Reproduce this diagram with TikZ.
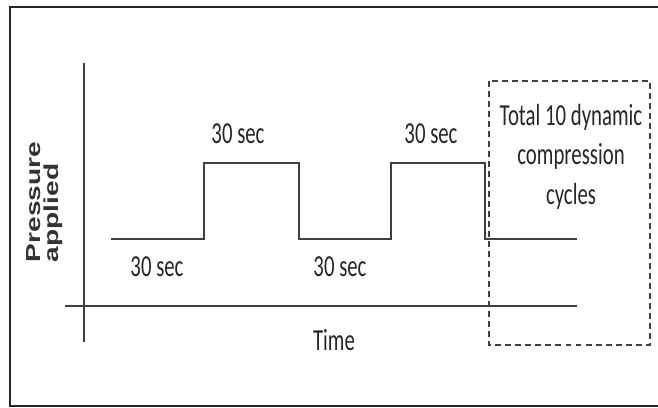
\documentclass[tikz,border=0pt]{standalone}
\usepackage{fontspec}
\setmainfont{Carlito}[FakeStretch=0.68]
\newfontfamily\axisfont{Liberation Sans}
\usetikzlibrary{positioning}

\begin{document}
\begin{tikzpicture}[
  x=0.02cm, y=-0.02cm,
  frame/.style={draw=black!85, line width=1.7pt},
  line/.style={draw=black!75, line width=1.2pt},
  cyclebox/.style={draw=black!75, line width=1.3pt, dash pattern=on 3.4pt off 2.3pt},
  lbl/.style={text=black!85, inner sep=0pt, font=\fontsize{17.4}{22.4}\selectfont}
]
\useasboundingbox (0,0) rectangle (658,408);

% outer frame (right side cut off)
\draw[frame] (660,7) -- (10,7) -- (10,406) -- (660,406);

% axes
\coordinate (ytop) at (84,63);
\coordinate (ybot) at (84,342);
\coordinate (tl) at (65,306);
\coordinate (tr) at (577,306);
\draw[line] (ytop) -- (ybot);
\draw[line] (tl) -- (tr);

% pressure steps
\draw[line] (111,239) -| (204,163) -| (299,239) -| (391,163) -| (485,239) -- (577,239);

% durations
\node[lbl] (hi1) at (238,134) {30 sec};
\node[lbl] (hi2) at (431,134) {30 sec};
\node[lbl] (lo1) at (157,267) {30 sec};
\node[lbl] (lo2) at (340,267) {30 sec};
\node[lbl] (time) at (334,340) {Time};

% axis label
\node[text=black!80, inner sep=0pt, rotate=90] (pres) at (45,202)
  {\scalebox{1}[0.72]{\begin{tabular}{@{}l@{}}\axisfont\bfseries\fontsize{16}{17}\selectfont Pressure\\[-1pt]
   \axisfont\bfseries\fontsize{16}{17}\selectfont applied\end{tabular}}};

% dashed box with the cycle count
\draw[cyclebox] (489,81) rectangle (650,345);
\node[lbl, align=center, anchor=north] (cycles) at (571,104) {Total 10 dynamic\\compression\\cycles};

\end{tikzpicture}
\end{document}
